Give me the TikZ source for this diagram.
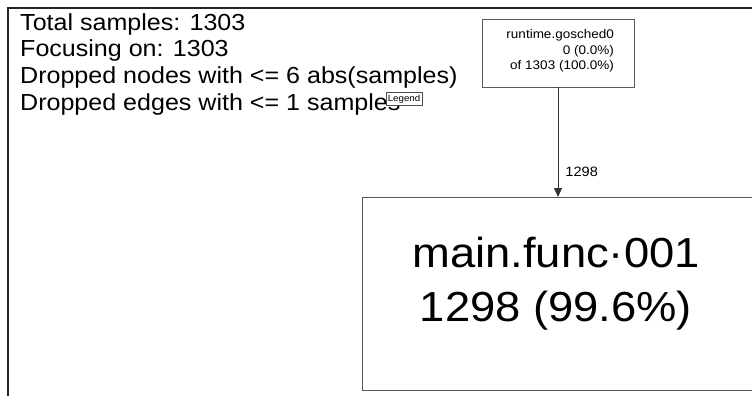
\documentclass[tikz,border=0pt]{standalone}
\usepackage{fontspec}
\setmainfont{Liberation Sans}[FakeStretch=1.08]
\usetikzlibrary{arrows.meta}
\tikzset{
  frameline/.style={line width=2pt, draw=black!85},
  boxline/.style={draw=black!65, line width=0.9pt},
  infotext/.style={anchor=base west, inner sep=0pt, font=\fontsize{23.2}{25}\selectfont},
  smalltext/.style={font=\fontsize{12.5}{15.5}\selectfont, align=right, inner sep=0pt},
}
\begin{document}
\begin{tikzpicture}[x=1pt,y=-1pt]
\useasboundingbox (0,0) rectangle (752,396);
\fill[white] (0,0) rectangle (752,396);
% outer frame
\draw[frameline] (8,396) -- (8,8) -- (752,8);
% info text
\node[infotext] (t1) at (20,31) {Total samples: 1303};
\node[infotext] (t2) at (20,57) {Focusing on: 1303};
\node[infotext] (t3) at (20,83) {Dropped nodes with <= 6 abs(samples)};
\node[infotext] (t4) at (20,110) {Dropped edges with <= 1 samples};
% legend
\node[draw=black!70, line width=0.6pt, fill=white, minimum width=36pt, minimum height=13pt, inner sep=0pt, font=\fontsize{9}{9}\selectfont] (leg) at (404,99) {Legend};
% small node
\draw[boxline] (482,19) rectangle (634,87);
\coordinate (gtop) at (558,19);
\coordinate (gbot) at (558,87);
\node[smalltext, anchor=east] (g) at (614,51) {runtime.gosched0\\0 (0.0\%)\\of 1303 (100.0\%)};
% main node
\draw[boxline] (362,197) -- (760,197);
\draw[boxline] (362,197) -- (362,390) -- (760,390);
\coordinate (mtop) at (558,197);
\node[font=\fontsize{42}{54}\selectfont, align=center, inner sep=0pt] (m) at (556,284) {main.func·001\\1298 (99.6\%)};
% edge
\draw[draw=black!80, line width=0.9pt, -{Triangle[length=9pt,width=8pt]}] (gbot) -- (mtop) node[pos=0.77, right=7pt, font=\fontsize{13.5}{14}\selectfont, inner sep=0pt] (el) {1298};
\end{tikzpicture}
\end{document}
